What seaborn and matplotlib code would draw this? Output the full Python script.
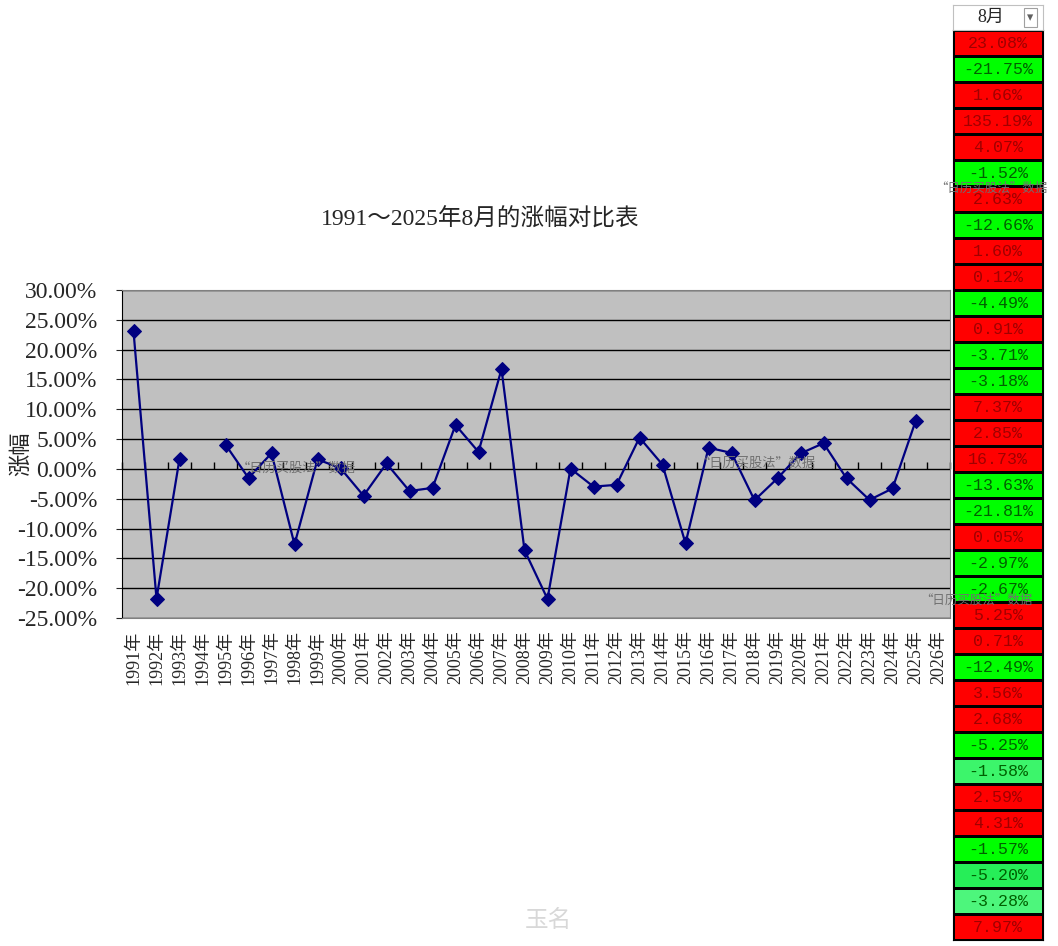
import numpy as np
import pandas as pd
import matplotlib.pyplot as plt
import seaborn as sns
from matplotlib.colors import ListedColormap

# 1991~2025 August change (%), 1994 is off the chart (gap in the line)
years = list(range(1991, 2027))
year_labels = [f"{y}年" for y in years]
pct = [23.08, -21.75, 1.66, 135.19, 4.07, -1.52, 2.63, -12.66, 1.60, 0.12,
       -4.49, 0.91, -3.71, -3.18, 7.37, 2.85, 16.73, -13.63, -21.81, 0.05,
       -2.97, -2.67, 5.25, 0.71, -12.49, 3.56, 2.68, -5.25, -1.58, 2.59,
       4.31, -1.57, -5.20, -3.28, 7.97]
# cell shade index for the right-hand table: 0 red, 1 green, 2-4 lighter greens
shade = [0, 1, 0, 0, 0, 1, 0, 1, 0, 0, 1, 0, 1, 1, 0, 0, 0, 1, 1, 0,
         1, 1, 0, 0, 1, 0, 0, 1, 2, 0, 0, 1, 3, 4, 0]
shade_colors = ['#ff0000', '#00ff00', '#3cf56b', '#26ee58', '#4df67c']
yticks = list(range(-25, 35, 5))

serif_cjk = ['Liberation Serif', 'Noto Sans CJK SC']
cjk = ['Noto Sans CJK SC', 'DejaVu Sans']
navy = '#000080'
wm = '“日历买股法”数据'

sns.set_style('white')
plt.rcParams['font.family'] = serif_cjk

fig = plt.figure(figsize=(10.58, 9.46), dpi=100)

# ---- main chart
ax = fig.add_axes([122/1058, 1-618/946, 828/1058, 328/946])
ax.set_facecolor('#c0c0c0')

df = pd.DataFrame({'pos': range(len(pct)), 'val': pct})
df.loc[df.val > 30, 'val'] = np.nan   # not drawn
df['seg'] = df.val.isna().cumsum()
df = df.dropna()
sns.lineplot(data=df, x='pos', y='val', units='seg', estimator=None, sort=False,
             color=navy, lw=1.6, marker='D', markersize=7.5,
             markeredgecolor=navy, markerfacecolor=navy, ax=ax)

ax.set_xlim(-0.5, len(years) - 0.5)
ax.set_ylim(-25, 30)
ax.set_yticks(yticks)
ax.set_yticklabels([f"{t:.2f}%" for t in yticks], fontsize=17,
                   family='Liberation Serif')
ax.set_xticks(range(len(years)))
ax.set_xticklabels(year_labels, rotation=90, fontsize=13)
ax.tick_params(axis='x', length=0, pad=9)
ax.tick_params(axis='y', length=4, pad=14, direction='out', left=True)
for t in yticks:
    ax.axhline(t, color='black', lw=1, zorder=1)
ax.set_xlabel('')
ax.set_ylabel('涨幅', fontsize=16, family=cjk)
ax.yaxis.set_label_coords(-0.109, 0.5)
for s in ['top', 'right', 'bottom']:
    ax.spines[s].set_color('#808080')
ax.spines['left'].set_color('black')

# category ticks on the zero line
sec = ax.secondary_xaxis(25/55)
sec.set_xticks(np.arange(-0.5, len(years), 1.0))
sec.tick_params(direction='in', length=5, width=1, color='black', labelbottom=False,
                labeltop=False)
sec.spines['bottom'].set_visible(False)
sec.spines['top'].set_visible(False)

ax.text(0.138, 0.445, wm, transform=ax.transAxes, fontsize=9.5, color='#707070',
        family=cjk)
ax.text(0.694, 0.46, wm, transform=ax.transAxes, fontsize=9.5, color='#707070',
        family=cjk)

fig.text(480/1058, 1-220/946, '1991～2025年8月的涨幅对比表', ha='center', va='center',
         fontsize=17)

# ---- right-hand table
tab = fig.add_axes([953/1058, 1-940/946, 90/1058, 910/946])
grid = np.array(shade).reshape(-1, 1)
annot = np.array([f"{v:.2f}%" for v in pct]).reshape(-1, 1)
sns.heatmap(grid, cmap=ListedColormap(shade_colors), vmin=-0.5, vmax=4.5,
            annot=annot, fmt='', cbar=False, linewidths=1, linecolor='black',
            xticklabels=False, yticklabels=False, ax=tab,
            annot_kws={'fontsize': 12, 'family': 'Liberation Mono'})
for txt, s in zip(tab.texts, shade):
    txt.set_color('#a00000' if s == 0 else '#006000')
for s in tab.spines.values():
    s.set_visible(True)
    s.set_color('black')

head = fig.add_axes([953/1058, 1-30/946, 90/1058, 25/946])
head.set_xticks([])
head.set_yticks([])
head.text(0.42, 0.5, '8月', ha='center', va='center', fontsize=13,
          family=['Liberation Serif', 'Noto Sans CJK SC'], transform=head.transAxes)
head.text(0.86, 0.5, '▾', ha='center', va='center', fontsize=9, color='#606060',
          family='DejaVu Sans', transform=head.transAxes,
          bbox=dict(boxstyle='square,pad=0.25', fc='white', ec='#a0a0a0', lw=0.8))
for s in head.spines.values():
    s.set_color('#c0c0c0')

# watermarks
fig.text(935/1058, 1-188/946, wm, fontsize=9, color='#707070', family=cjk,
         va='center')
fig.text(920/1058, 1-600/946, wm, fontsize=9, color='#707070', family=cjk,
         va='center')
fig.text(548/1058, 1-920/946, '玉名', fontsize=17, color='#d8d8d8', family=cjk,
         ha='center', va='center')

fig.savefig('out.png', dpi=100)
